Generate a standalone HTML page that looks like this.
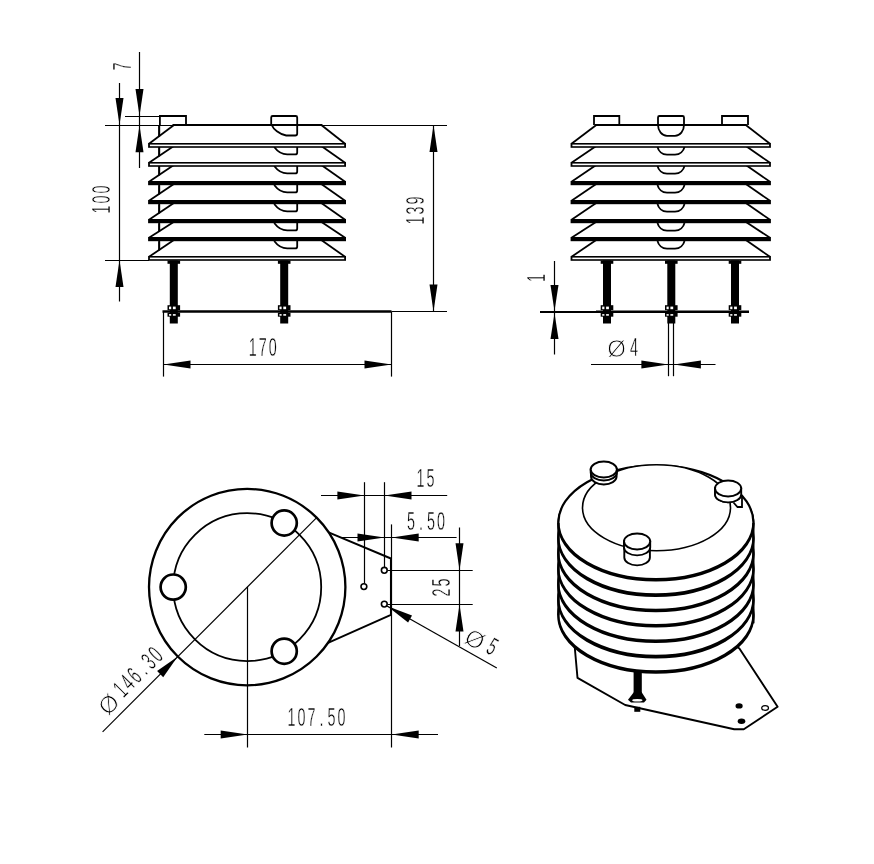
<!DOCTYPE html>
<html lang="en"><head><meta charset="utf-8"><title>Radiation shield drawing</title>
<style>html,body{margin:0;padding:0;background:#fff}svg{display:block}text{font-family:"Liberation Sans",sans-serif;fill:#000;stroke:#fff;stroke-width:0.45px}.dia{stroke-width:0.9px}</style>
</head><body>
<div style="will-change:transform;width:874px;height:864px;overflow:hidden">
<svg width="874" height="864" viewBox="0 0 874 864">
<rect width="874" height="864" fill="#fff"/>
<g id="view-side">
<line x1="159.2" y1="125.0" x2="159.2" y2="257.0" stroke="#000" stroke-width="1.8" />
<polygon points="177.2,237.8 318.1,237.8 345.1,256.8 345.1,260.0 149.0,260.0 149.0,256.8" fill="#fff" stroke="none"/>
<path d="M274.2,241.0 C277.2,245.0 281.2,248.4 287.2,248.4 H295.2 Q297.2,248.4 297.2,246.4 V241.0" fill="none" stroke="#000" stroke-width="1.8"/>
<line x1="177.2" y1="237.8" x2="149.0" y2="256.8" stroke="#000" stroke-width="1.8" />
<line x1="318.1" y1="237.8" x2="345.1" y2="256.8" stroke="#000" stroke-width="1.8" />
<rect x="148.1" y="256" width="197.9" height="4.8" fill="#000"/>
<rect x="149.9" y="257.6" width="194.3" height="1.6" fill="#fff"/>
<polygon points="177.2,219.8 318.1,219.8 345.1,237.8 345.1,241.0 149.0,241.0 149.0,237.8" fill="#fff" stroke="none"/>
<path d="M274.2,223.0 C277.2,227.0 281.2,230.4 287.2,230.4 H295.2 Q297.2,230.4 297.2,228.4 V223.0" fill="none" stroke="#000" stroke-width="1.8"/>
<line x1="177.2" y1="219.8" x2="149.0" y2="237.8" stroke="#000" stroke-width="1.8" />
<line x1="318.1" y1="219.8" x2="345.1" y2="237.8" stroke="#000" stroke-width="1.8" />
<rect x="148.1" y="237" width="197.9" height="4.2" fill="#000"/>
<polygon points="177.2,200.8 318.1,200.8 345.1,219.8 345.1,223.0 149.0,223.0 149.0,219.8" fill="#fff" stroke="none"/>
<path d="M274.2,204.0 C277.2,208.0 281.2,211.4 287.2,211.4 H295.2 Q297.2,211.4 297.2,209.4 V204.0" fill="none" stroke="#000" stroke-width="1.8"/>
<line x1="177.2" y1="200.8" x2="149.0" y2="219.8" stroke="#000" stroke-width="1.8" />
<line x1="318.1" y1="200.8" x2="345.1" y2="219.8" stroke="#000" stroke-width="1.8" />
<rect x="148.1" y="219" width="197.9" height="4.2" fill="#000"/>
<polygon points="177.2,181.8 318.1,181.8 345.1,200.8 345.1,204.0 149.0,204.0 149.0,200.8" fill="#fff" stroke="none"/>
<path d="M274.2,185.0 C277.2,189.0 281.2,192.4 287.2,192.4 H295.2 Q297.2,192.4 297.2,190.4 V185.0" fill="none" stroke="#000" stroke-width="1.8"/>
<line x1="177.2" y1="181.8" x2="149.0" y2="200.8" stroke="#000" stroke-width="1.8" />
<line x1="318.1" y1="181.8" x2="345.1" y2="200.8" stroke="#000" stroke-width="1.8" />
<rect x="148.1" y="200" width="197.9" height="4.2" fill="#000"/>
<polygon points="177.2,162.8 318.1,162.8 345.1,181.8 345.1,185.0 149.0,185.0 149.0,181.8" fill="#fff" stroke="none"/>
<path d="M274.2,166.0 C277.2,170.0 281.2,173.4 287.2,173.4 H295.2 Q297.2,173.4 297.2,171.4 V166.0" fill="none" stroke="#000" stroke-width="1.8"/>
<line x1="177.2" y1="162.8" x2="149.0" y2="181.8" stroke="#000" stroke-width="1.8" />
<line x1="318.1" y1="162.8" x2="345.1" y2="181.8" stroke="#000" stroke-width="1.8" />
<rect x="148.1" y="181" width="197.9" height="4.2" fill="#000"/>
<polygon points="177.2,143.8 318.1,143.8 345.1,162.8 345.1,166.0 149.0,166.0 149.0,162.8" fill="#fff" stroke="none"/>
<path d="M274.2,147.0 C277.2,151.0 281.2,154.4 287.2,154.4 H295.2 Q297.2,154.4 297.2,152.4 V147.0" fill="none" stroke="#000" stroke-width="1.8"/>
<line x1="177.2" y1="143.8" x2="149.0" y2="162.8" stroke="#000" stroke-width="1.8" />
<line x1="318.1" y1="143.8" x2="345.1" y2="162.8" stroke="#000" stroke-width="1.8" />
<rect x="148.1" y="162" width="197.9" height="4.8" fill="#000"/>
<rect x="149.9" y="163.6" width="194.3" height="1.6" fill="#fff"/>
<polygon points="174.0,125.0 321.3,125.0 345.1,143.8 345.1,147.0 149.0,147.0 149.0,143.8" fill="#fff" stroke="none"/>
<line x1="174.0" y1="125.0" x2="149.0" y2="143.8" stroke="#000" stroke-width="1.8" />
<line x1="321.3" y1="125.0" x2="345.1" y2="143.8" stroke="#000" stroke-width="1.8" />
<line x1="172.5" y1="125.0" x2="322.3" y2="125.0" stroke="#000" stroke-width="1.8" />
<rect x="148.1" y="143" width="197.9" height="4.8" fill="#000"/>
<rect x="149.9" y="144.6" width="194.3" height="1.6" fill="#fff"/>
<line x1="159.2" y1="125.0" x2="159.2" y2="136.7" stroke="#000" stroke-width="1.8" />
<line x1="159.2" y1="147.4" x2="159.2" y2="156.5" stroke="#000" stroke-width="1.8" />
<line x1="159.2" y1="166.4" x2="159.2" y2="175.5" stroke="#000" stroke-width="1.8" />
<line x1="159.2" y1="185.4" x2="159.2" y2="194.5" stroke="#000" stroke-width="1.8" />
<line x1="159.2" y1="204.4" x2="159.2" y2="213.5" stroke="#000" stroke-width="1.8" />
<line x1="159.2" y1="223.4" x2="159.2" y2="231.9" stroke="#000" stroke-width="1.8" />
<line x1="159.2" y1="241.4" x2="159.2" y2="250.5" stroke="#000" stroke-width="1.8" />
<path d="M159.9,125.0 V116 H186.0 V125.0" fill="none" stroke="#000" stroke-width="1.8"/>
<path d="M271.2,125.0 V117.5 Q271.2,116 272.7,116 H295.7 Q297.2,116 297.2,117.5 V133.5 Q297.2,135.5 295.2,135.5 H286.2 C279.2,134 273.2,129 271.7,125.0" fill="none" stroke="#000" stroke-width="1.8"/>
<rect x="169.8" y="260.5" width="8" height="63" fill="#000"/>
<rect x="167.5" y="260.5" width="12.6" height="3.3" fill="#000"/>
<rect x="167.5" y="305.2" width="12.6" height="5.0" fill="#000"/>
<rect x="169.0" y="306.59999999999997" width="2.2" height="2.6" fill="#fff"/>
<rect x="172.9" y="306.59999999999997" width="2.8" height="2.6" fill="#fff"/>
<rect x="167.5" y="312.7" width="12.6" height="4.0" fill="#000"/>
<rect x="169.0" y="314.09999999999997" width="2.2" height="1.6" fill="#fff"/>
<rect x="172.9" y="314.09999999999997" width="2.8" height="1.6" fill="#fff"/>
<rect x="280.2" y="260.5" width="8" height="63" fill="#000"/>
<rect x="277.9" y="260.5" width="12.6" height="3.3" fill="#000"/>
<rect x="277.9" y="305.2" width="12.6" height="5.0" fill="#000"/>
<rect x="279.4" y="306.59999999999997" width="2.2" height="2.6" fill="#fff"/>
<rect x="283.3" y="306.59999999999997" width="2.8" height="2.6" fill="#fff"/>
<rect x="277.9" y="312.7" width="12.6" height="4.0" fill="#000"/>
<rect x="279.4" y="314.09999999999997" width="2.2" height="1.6" fill="#fff"/>
<rect x="283.3" y="314.09999999999997" width="2.8" height="1.6" fill="#fff"/>
<line x1="162.5" y1="311.5" x2="391.5" y2="311.5" stroke="#000" stroke-width="2.6" />
</g>
<g id="dims-side">
<line x1="105.0" y1="125.5" x2="173.0" y2="125.5" stroke="#000" stroke-width="1.2" />
<line x1="125.0" y1="116.5" x2="159.0" y2="116.5" stroke="#000" stroke-width="1.2" />
<line x1="105.0" y1="260.5" x2="149.0" y2="260.5" stroke="#000" stroke-width="1.2" />
<line x1="119.5" y1="83.0" x2="119.5" y2="301.5" stroke="#000" stroke-width="1.2" />
<polygon points="119.5,125.0 115.5,98.0 123.5,98.0" fill="#000"/>
<polygon points="119.5,260.0 123.5,287.0 115.5,287.0" fill="#000"/>
<line x1="139.5" y1="52.0" x2="139.5" y2="168.0" stroke="#000" stroke-width="1.2" />
<polygon points="139.5,116.1 135.5,89.1 143.5,89.1" fill="#000"/>
<polygon points="139.5,125.3 143.5,152.3 135.5,152.3" fill="#000"/>
<text transform="translate(130.8 71.6) rotate(-90) scale(0.57 1)" x="8.77" y="0" font-size="25.2" text-anchor="middle">7</text>
<text transform="translate(110.0 214.6) rotate(-90) scale(0.57 1)" x="8.77 26.32 43.86" y="0" font-size="25.2" text-anchor="middle">100</text>
<line x1="322.0" y1="125.5" x2="447.0" y2="125.5" stroke="#000" stroke-width="1.2" />
<line x1="391.5" y1="311.5" x2="447.0" y2="311.5" stroke="#000" stroke-width="1.2" />
<line x1="433.5" y1="125.0" x2="433.5" y2="311.5" stroke="#000" stroke-width="1.2" />
<polygon points="433.5,125.0 437.5,152.0 429.5,152.0" fill="#000"/>
<polygon points="433.5,311.5 429.5,284.5 437.5,284.5" fill="#000"/>
<text transform="translate(424.0 225.6) rotate(-90) scale(0.57 1)" x="8.77 26.32 43.86" y="0" font-size="25.2" text-anchor="middle">139</text>
<line x1="163.5" y1="311.5" x2="163.5" y2="376.6" stroke="#000" stroke-width="1.2" />
<line x1="391.5" y1="311.5" x2="391.5" y2="376.6" stroke="#000" stroke-width="1.2" />
<line x1="163.5" y1="364.5" x2="391.5" y2="364.5" stroke="#000" stroke-width="1.2" />
<polygon points="163.5,364.5 190.5,360.5 190.5,368.5" fill="#000"/>
<polygon points="391.5,364.5 364.5,368.5 364.5,360.5" fill="#000"/>
<text transform="translate(247.7 356.3) scale(0.57 1)" x="8.77 26.32 43.86" y="0" font-size="25.2" text-anchor="middle">170</text>
</g>
<g id="view-front">
<polygon points="599.5,237.8 742.6,237.8 770.0,256.8 770.0,260.0 571.5,260.0 571.5,256.8" fill="#fff" stroke="none"/>
<path d="M657.5,241.0 C658.5,245.0 662.0,248.6 667.0,248.6 H675.0 C680.0,248.6 683.5,245.0 684.5,241.0" fill="none" stroke="#000" stroke-width="1.8"/>
<line x1="599.5" y1="237.8" x2="571.5" y2="256.8" stroke="#000" stroke-width="1.8" />
<line x1="742.6" y1="237.8" x2="770.0" y2="256.8" stroke="#000" stroke-width="1.8" />
<rect x="570.6" y="256" width="200.3" height="4.8" fill="#000"/>
<rect x="572.4" y="257.6" width="196.7" height="1.6" fill="#fff"/>
<polygon points="599.5,219.8 742.6,219.8 770.0,237.8 770.0,241.0 571.5,241.0 571.5,237.8" fill="#fff" stroke="none"/>
<path d="M657.5,223.0 C658.5,227.0 662.0,230.6 667.0,230.6 H675.0 C680.0,230.6 683.5,227.0 684.5,223.0" fill="none" stroke="#000" stroke-width="1.8"/>
<line x1="599.5" y1="219.8" x2="571.5" y2="237.8" stroke="#000" stroke-width="1.8" />
<line x1="742.6" y1="219.8" x2="770.0" y2="237.8" stroke="#000" stroke-width="1.8" />
<rect x="570.6" y="237" width="200.3" height="4.2" fill="#000"/>
<polygon points="599.5,200.8 742.6,200.8 770.0,219.8 770.0,223.0 571.5,223.0 571.5,219.8" fill="#fff" stroke="none"/>
<path d="M657.5,204.0 C658.5,208.0 662.0,211.6 667.0,211.6 H675.0 C680.0,211.6 683.5,208.0 684.5,204.0" fill="none" stroke="#000" stroke-width="1.8"/>
<line x1="599.5" y1="200.8" x2="571.5" y2="219.8" stroke="#000" stroke-width="1.8" />
<line x1="742.6" y1="200.8" x2="770.0" y2="219.8" stroke="#000" stroke-width="1.8" />
<rect x="570.6" y="219" width="200.3" height="4.2" fill="#000"/>
<polygon points="599.5,181.8 742.6,181.8 770.0,200.8 770.0,204.0 571.5,204.0 571.5,200.8" fill="#fff" stroke="none"/>
<path d="M657.5,185.0 C658.5,189.0 662.0,192.6 667.0,192.6 H675.0 C680.0,192.6 683.5,189.0 684.5,185.0" fill="none" stroke="#000" stroke-width="1.8"/>
<line x1="599.5" y1="181.8" x2="571.5" y2="200.8" stroke="#000" stroke-width="1.8" />
<line x1="742.6" y1="181.8" x2="770.0" y2="200.8" stroke="#000" stroke-width="1.8" />
<rect x="570.6" y="200" width="200.3" height="4.2" fill="#000"/>
<polygon points="599.5,162.8 742.6,162.8 770.0,181.8 770.0,185.0 571.5,185.0 571.5,181.8" fill="#fff" stroke="none"/>
<path d="M657.5,166.0 C658.5,170.0 662.0,173.6 667.0,173.6 H675.0 C680.0,173.6 683.5,170.0 684.5,166.0" fill="none" stroke="#000" stroke-width="1.8"/>
<line x1="599.5" y1="162.8" x2="571.5" y2="181.8" stroke="#000" stroke-width="1.8" />
<line x1="742.6" y1="162.8" x2="770.0" y2="181.8" stroke="#000" stroke-width="1.8" />
<rect x="570.6" y="181" width="200.3" height="4.2" fill="#000"/>
<polygon points="599.5,143.8 742.6,143.8 770.0,162.8 770.0,166.0 571.5,166.0 571.5,162.8" fill="#fff" stroke="none"/>
<path d="M657.5,147.0 C658.5,151.0 662.0,154.6 667.0,154.6 H675.0 C680.0,154.6 683.5,151.0 684.5,147.0" fill="none" stroke="#000" stroke-width="1.8"/>
<line x1="599.5" y1="143.8" x2="571.5" y2="162.8" stroke="#000" stroke-width="1.8" />
<line x1="742.6" y1="143.8" x2="770.0" y2="162.8" stroke="#000" stroke-width="1.8" />
<rect x="570.6" y="162" width="200.3" height="4.8" fill="#000"/>
<rect x="572.4" y="163.6" width="196.7" height="1.6" fill="#fff"/>
<polygon points="596.3,125.0 745.8,125.0 770.0,143.8 770.0,147.0 571.5,147.0 571.5,143.8" fill="#fff" stroke="none"/>
<line x1="596.3" y1="125.0" x2="571.5" y2="143.8" stroke="#000" stroke-width="1.8" />
<line x1="745.8" y1="125.0" x2="770.0" y2="143.8" stroke="#000" stroke-width="1.8" />
<line x1="594.8" y1="125.0" x2="746.8" y2="125.0" stroke="#000" stroke-width="1.8" />
<rect x="570.6" y="143" width="200.3" height="4.8" fill="#000"/>
<rect x="572.4" y="144.6" width="196.7" height="1.6" fill="#fff"/>
<path d="M594.0,125.0 V116 H619.3 V125.0" fill="none" stroke="#000" stroke-width="1.8"/>
<path d="M658.0,125.0 V117.5 Q658.0,116 659.5,116 H682.5 Q684.0,116 684.0,117.5 V125.0 C684.0,131 680.0,135.8 675.0,135.8 H667.0 C662.0,135.8 658.0,131 658.0,125.0" fill="none" stroke="#000" stroke-width="1.8"/>
<path d="M722.0,125.0 V116 H748.0 V125.0" fill="none" stroke="#000" stroke-width="1.8"/>
<rect x="603.0" y="260.5" width="8" height="63" fill="#000"/>
<rect x="600.7" y="260.5" width="12.6" height="3.3" fill="#000"/>
<rect x="600.7" y="305.2" width="12.6" height="5.0" fill="#000"/>
<rect x="602.2" y="306.59999999999997" width="2.2" height="2.6" fill="#fff"/>
<rect x="606.1" y="306.59999999999997" width="2.8" height="2.6" fill="#fff"/>
<rect x="600.7" y="312.7" width="12.6" height="4.0" fill="#000"/>
<rect x="602.2" y="314.09999999999997" width="2.2" height="1.6" fill="#fff"/>
<rect x="606.1" y="314.09999999999997" width="2.8" height="1.6" fill="#fff"/>
<rect x="667.3" y="260.5" width="8" height="63" fill="#000"/>
<rect x="665.0" y="260.5" width="12.6" height="3.3" fill="#000"/>
<rect x="665.0" y="305.2" width="12.6" height="5.0" fill="#000"/>
<rect x="666.5" y="306.59999999999997" width="2.2" height="2.6" fill="#fff"/>
<rect x="670.4" y="306.59999999999997" width="2.8" height="2.6" fill="#fff"/>
<rect x="665.0" y="312.7" width="12.6" height="4.0" fill="#000"/>
<rect x="666.5" y="314.09999999999997" width="2.2" height="1.6" fill="#fff"/>
<rect x="670.4" y="314.09999999999997" width="2.8" height="1.6" fill="#fff"/>
<rect x="731.0" y="260.5" width="8" height="63" fill="#000"/>
<rect x="728.7" y="260.5" width="12.6" height="3.3" fill="#000"/>
<rect x="728.7" y="305.2" width="12.6" height="5.0" fill="#000"/>
<rect x="730.2" y="306.59999999999997" width="2.2" height="2.6" fill="#fff"/>
<rect x="734.1" y="306.59999999999997" width="2.8" height="2.6" fill="#fff"/>
<rect x="728.7" y="312.7" width="12.6" height="4.0" fill="#000"/>
<rect x="730.2" y="314.09999999999997" width="2.2" height="1.6" fill="#fff"/>
<rect x="734.1" y="314.09999999999997" width="2.8" height="1.6" fill="#fff"/>
<line x1="596.0" y1="311.8" x2="749.0" y2="311.8" stroke="#000" stroke-width="2.6" />
</g>
<g id="dims-front">
<line x1="540.0" y1="312.0" x2="600.0" y2="312.0" stroke="#000" stroke-width="2.0" />
<line x1="554.5" y1="261.0" x2="554.5" y2="354.5" stroke="#000" stroke-width="1.2" />
<polygon points="554.5,311.0 550.5,285.0 558.5,285.0" fill="#000"/>
<polygon points="554.5,313.0 558.5,339.0 550.5,339.0" fill="#000"/>
<text transform="translate(545.3 283.0) rotate(-90) scale(0.57 1)" x="8.77" y="0" font-size="25.2" text-anchor="middle">1</text>
<line x1="668.5" y1="323.0" x2="668.5" y2="376.2" stroke="#000" stroke-width="1.2" />
<line x1="673.5" y1="323.0" x2="673.5" y2="376.2" stroke="#000" stroke-width="1.2" />
<line x1="591.0" y1="364.5" x2="715.5" y2="364.5" stroke="#000" stroke-width="1.2" />
<polygon points="668.4,364.5 641.4,368.5 641.4,360.5" fill="#000"/>
<polygon points="673.9,364.5 700.9,360.5 700.9,368.5" fill="#000"/>
<text class="dia" x="616.6" y="357.1" font-size="24" text-anchor="middle">Ø</text>
<text transform="translate(629.0 355.6) scale(0.57 1)" x="8.77" y="0" font-size="25.2" text-anchor="middle">4</text>
</g>
<g id="view-plan">
<path d="M328,532.1 L390.9,558.5 V614.8 L328,642.8" fill="none" stroke="#000" stroke-width="1.9"/>
<circle cx="247.2" cy="587.1" r="98.2" fill="#fff" stroke="#000" stroke-width="2.3"/>
<circle cx="247.2" cy="587.1" r="74" fill="none" stroke="#000" stroke-width="1.8"/>
<circle cx="173.2" cy="587.1" r="12.6" fill="#fff" stroke="#000" stroke-width="2.7"/>
<circle cx="284.2" cy="523.0" r="12.6" fill="#fff" stroke="#000" stroke-width="2.7"/>
<circle cx="284.2" cy="651.2" r="12.6" fill="#fff" stroke="#000" stroke-width="2.7"/>
<circle cx="384.3" cy="570.3" r="2.9" fill="#fff" stroke="#000" stroke-width="1.6"/>
<circle cx="363.9" cy="586.6" r="2.9" fill="#fff" stroke="#000" stroke-width="1.6"/>
<circle cx="384.3" cy="604.1" r="2.9" fill="#fff" stroke="#000" stroke-width="1.6"/>
</g>
<g id="dims-plan">
<line x1="102.6" y1="731.9" x2="316.9" y2="517.4" stroke="#000" stroke-width="1.2" />
<polygon points="177.5,656.8 163.2,677.2 157.1,671.1" fill="#000"/>
<line x1="247.5" y1="586.7" x2="247.5" y2="747.5" stroke="#000" stroke-width="1.2" />
<line x1="391.5" y1="524.4" x2="391.5" y2="747.5" stroke="#000" stroke-width="1.2" />
<line x1="204.3" y1="734.5" x2="438.0" y2="734.5" stroke="#000" stroke-width="1.2" />
<polygon points="247.7,734.5 220.7,738.5 220.7,730.5" fill="#000"/>
<polygon points="391.7,734.5 418.7,730.5 418.7,738.5" fill="#000"/>
<text transform="translate(286.4 725.8) scale(0.57 1)" x="8.77 26.32 43.86 61.40 78.95 96.49" y="0" font-size="25.2" text-anchor="middle">107.50</text>
<line x1="364.5" y1="482.2" x2="364.5" y2="583.5" stroke="#000" stroke-width="1.2" />
<line x1="384.5" y1="482.2" x2="384.5" y2="567.0" stroke="#000" stroke-width="1.2" />
<line x1="321.0" y1="495.5" x2="447.2" y2="495.5" stroke="#000" stroke-width="1.2" />
<polygon points="364.4,495.5 337.4,499.5 337.4,491.5" fill="#000"/>
<polygon points="384.5,495.5 411.5,491.5 411.5,499.5" fill="#000"/>
<text transform="translate(415.6 487.0) scale(0.57 1)" x="8.77 26.32" y="0" font-size="25.2" text-anchor="middle">15</text>
<line x1="342.0" y1="537.5" x2="456.6" y2="537.5" stroke="#000" stroke-width="1.2" />
<polygon points="384.5,537.5 357.5,541.5 357.5,533.5" fill="#000"/>
<polygon points="391.7,537.5 418.7,533.5 418.7,541.5" fill="#000"/>
<text transform="translate(406.0 529.5) scale(0.57 1)" x="8.77 26.32 43.86 61.40" y="0" font-size="25.2" text-anchor="middle">5.50</text>
<line x1="388.0" y1="570.5" x2="472.7" y2="570.5" stroke="#000" stroke-width="1.2" />
<line x1="388.0" y1="604.5" x2="472.7" y2="604.5" stroke="#000" stroke-width="1.2" />
<line x1="459.5" y1="527.5" x2="459.5" y2="646.0" stroke="#000" stroke-width="1.2" />
<polygon points="459.5,570.3 455.5,543.3 463.5,543.3" fill="#000"/>
<polygon points="459.5,604.4 463.5,631.4 455.5,631.4" fill="#000"/>
<text transform="translate(450.4 597.6) rotate(-90) scale(0.57 1)" x="8.77 26.32" y="0" font-size="25.2" text-anchor="middle">25</text>
<line x1="387.0" y1="606.0" x2="496.8" y2="668.1" stroke="#000" stroke-width="1.2" />
<polygon points="387.0,606.0 412.0,615.6 408.1,622.5" fill="#000"/>
</g>
<g transform="translate(126.3,695.6) rotate(-45)">
<text class="dia" x="-18.5" y="2.0" font-size="24" text-anchor="middle">Ø</text>
<text transform="translate(-5.0 0.0) scale(0.57 1)" x="8.77 26.32 43.86 61.40 78.95 96.49" y="0" font-size="25.2" text-anchor="middle">146.30</text>
</g>
<g transform="translate(387,606) rotate(29.5)">
<text class="dia" x="93.1" y="-6.0" font-size="24" text-anchor="middle">Ø</text>
<text transform="translate(106.8 -8.2) scale(0.57 1)" x="8.77" y="0" font-size="25.2" text-anchor="middle">5</text>
</g>
<g id="view-iso">
<polygon points="574.1,640 577.5,677.9 625.2,705 734.2,729.3 743.8,729.3 777.6,706.8 739.4,648.6 700,620" fill="#fff" stroke="#000" stroke-width="1.9" stroke-linejoin="round"/>
<ellipse cx="739.1" cy="705.9" rx="3.6" ry="2.6" fill="#000"/>
<ellipse cx="741.5" cy="721.2" rx="3.8" ry="2.7" fill="#000"/>
<ellipse cx="765.1" cy="708" rx="3.4" ry="2.3" fill="#fff" stroke="#000" stroke-width="1.2"/>
<rect x="633.6" y="668" width="8.2" height="30" fill="#000"/>
<polygon points="634,692 641.5,692 646.5,699.8 644,702.5 631,702.5 628,699.8" fill="#000"/>
<ellipse cx="637.3" cy="700.3" rx="5.2" ry="1.3" fill="#fff"/>
<rect x="634.3" y="706.8" width="6" height="5" fill="#000"/>
<ellipse cx="655.9" cy="616.0" rx="97.5" ry="56.7" fill="#fff" stroke="#000" stroke-width="2.2"/>
<ellipse cx="655.9" cy="614.6" rx="97.5" ry="56.7" fill="#fff" stroke="#000" stroke-width="2.2"/>
<ellipse cx="655.9" cy="600.6" rx="97.5" ry="56.7" fill="#fff" stroke="#000" stroke-width="2.2"/>
<ellipse cx="655.9" cy="599.2" rx="97.5" ry="56.7" fill="#fff" stroke="#000" stroke-width="2.2"/>
<ellipse cx="655.9" cy="585.2" rx="97.5" ry="56.7" fill="#fff" stroke="#000" stroke-width="2.2"/>
<ellipse cx="655.9" cy="583.8" rx="97.5" ry="56.7" fill="#fff" stroke="#000" stroke-width="2.2"/>
<ellipse cx="655.9" cy="569.8" rx="97.5" ry="56.7" fill="#fff" stroke="#000" stroke-width="2.2"/>
<ellipse cx="655.9" cy="568.4" rx="97.5" ry="56.7" fill="#fff" stroke="#000" stroke-width="2.2"/>
<ellipse cx="655.9" cy="554.5" rx="97.5" ry="56.7" fill="#fff" stroke="#000" stroke-width="2.2"/>
<ellipse cx="655.9" cy="553.1" rx="97.5" ry="56.7" fill="#fff" stroke="#000" stroke-width="2.2"/>
<ellipse cx="655.9" cy="539.1" rx="97.5" ry="56.7" fill="#fff" stroke="#000" stroke-width="2.2"/>
<ellipse cx="655.9" cy="537.7" rx="97.5" ry="56.7" fill="#fff" stroke="#000" stroke-width="2.2"/>
<ellipse cx="655.9" cy="523.7" rx="97.5" ry="56.7" fill="#fff" stroke="#000" stroke-width="2.2"/>
<ellipse cx="655.9" cy="522.3" rx="97.5" ry="56.7" fill="#fff" stroke="#000" stroke-width="2.2"/>
<line x1="558.4" y1="523.0" x2="558.4" y2="615.3" stroke="#000" stroke-width="2.2" />
<line x1="753.4" y1="523.0" x2="753.4" y2="623.3" stroke="#000" stroke-width="2.2" />
<ellipse cx="656.5" cy="507.7" rx="74" ry="43" fill="#fff" stroke="#000" stroke-width="1.6"/>
<path d="M591.0,469.5 V476.5 A12.8,8.0 0 0 0 616.6,476.5 V469.5 Z" fill="#fff" stroke="#000" stroke-width="1.9"/>
<path d="M590.7,469.5 V472.5 A13.1,8.0 0 0 0 616.9,472.5 V469.5 Z" fill="#fff" stroke="#000" stroke-width="1.9"/>
<ellipse cx="603.8" cy="469.5" rx="13.1" ry="8.0" fill="#fff" stroke="#000" stroke-width="2.0"/>
<path d="M733.5,502.5 L737.5,507 L742,507 L742,496" fill="#fff" stroke="#000" stroke-width="1.8"/>
<path d="M715.3,488.4 V494.4 A12.8,8.0 0 0 0 740.9,494.4 V488.4 Z" fill="#fff" stroke="#000" stroke-width="1.9"/>
<path d="M715.0,488.4 V494.4 A13.1,8.0 0 0 0 741.2,494.4 V488.4 Z" fill="#fff" stroke="#000" stroke-width="1.9"/>
<ellipse cx="728.1" cy="488.4" rx="13.1" ry="8.0" fill="#fff" stroke="#000" stroke-width="2.0"/>
<path d="M624.3,541.4 V557.4 A12.8,8.0 0 0 0 649.9,557.4 V541.4 Z" fill="#fff" stroke="#000" stroke-width="1.9"/>
<path d="M624.0,541.4 V547.4 A13.1,8.0 0 0 0 650.2,547.4 V541.4 Z" fill="#fff" stroke="#000" stroke-width="1.9"/>
<ellipse cx="637.1" cy="541.4" rx="13.1" ry="8.0" fill="#fff" stroke="#000" stroke-width="2.0"/>
</g>
</svg></div>
</body></html>
